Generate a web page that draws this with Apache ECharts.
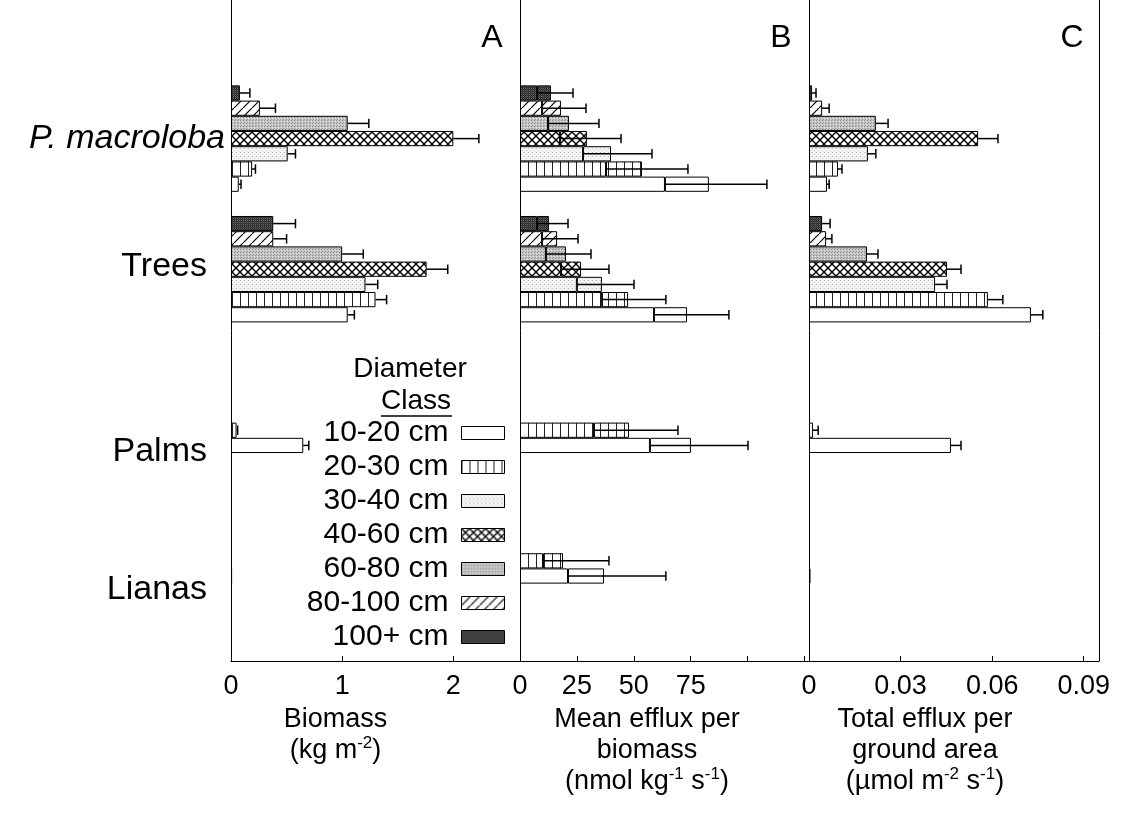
<!DOCTYPE html>
<html>
<head>
<meta charset="utf-8">
<script src="https://cdn.jsdelivr.net/npm/echarts@6/dist/echarts.min.js"></script>
<style>
  html, body { margin: 0; padding: 0; background: #fff; }
  #chart { width: 1125px; height: 829px; }
</style>
</head>
<body>
<div id="chart"></div>
<script>
// Plant groups (rows) and stem diameter classes (columns, 10-20 cm first)
const groups = ['P. macroloba', 'Trees', 'Palms', 'Lianas'];
const classes = ['10-20 cm', '20-30 cm', '30-40 cm', '40-60 cm', '60-80 cm', '80-100 cm', '100+ cm'];

// A: biomass (kg m-2) and its standard error
const biomass = [
  [0.07, 0.19, 0.51, 2.00, 1.05, 0.26, 0.08],
  [1.05, 1.30, 1.21, 1.76, 1.00, 0.38, 0.38],
  [0.65, 0.05, null, null, null, null, null],
  [0.01, null, null, null, null, null, null]
];
const biomassSE = [
  [0.02, 0.03, 0.07, 0.23, 0.19, 0.14, 0.09],
  [0.06, 0.10, 0.11, 0.19, 0.19, 0.12, 0.20],
  [0.05, 0.01, null, null, null, null, null],
  [null, null, null, null, null, null, null]
];

// B: mean efflux per biomass (nmol kg-1 s-1) with SE, and the biomass-weighted value
const effluxMean = [
  [63.7, 37.8, 27.7, 17.6, 12.3, 9.7, 7.5],
  [58.9, 36.0, 25.0, 18.0, 11.4, 9.7, 7.5],
  [57.1, 32.5, null, null, null, null, null],
  [21.1, 10.1, null, null, null, null, null]
];
const effluxSE = [
  [44.8, 36.0, 30.3, 26.8, 22.4, 19.3, 15.8],
  [32.9, 28.1, 25.1, 21.1, 19.8, 15.8, 13.6],
  [43.1, 36.9, null, null, null, null, null],
  [43.0, 29.0, null, null, null, null, null]
];
const effluxWeighted = [
  [83.0, 53.6, 40.0, 29.4, 21.5, 18.0, 13.6],
  [73.4, 47.5, 36.0, 26.8, 20.2, 16.3, 12.7],
  [75.1, 47.9, null, null, null, null, null],
  [36.9, 18.9, null, null, null, null, null]
];

// C: total efflux per ground area (umol m-2 s-1) with SE
const totalEfflux = [
  [0.0059, 0.0095, 0.0193, 0.0554, 0.0219, 0.0043, 0.0010],
  [0.0727, 0.0586, 0.0413, 0.0452, 0.0190, 0.0056, 0.0043],
  [0.0465, 0.0013, null, null, null, null, null],
  [0.0005, null, null, null, null, null, null]
];
const totalEffluxSE = [
  [0.0007, 0.0013, 0.0026, 0.0065, 0.0040, 0.0023, 0.0013],
  [0.0039, 0.0049, 0.0039, 0.0046, 0.0036, 0.0019, 0.0026],
  [0.0033, 0.0017, null, null, null, null, null],
  [null, null, null, null, null, null, null]
];

// Axis tick labels shown on each panel
const biomassTicks = [0, 1, 2];
const effluxTicks = [0, 25, 50, 75];
const totalTicks = [0, 0.03, 0.06, 0.09];

const FONT = '"Liberation Sans", Arial, sans-serif';
const GAP = 0.185;                       // category gap around each group of 7 bars
const yCategories = [' ', ...groups, '  '];  // blank ends give the outer margins

// ---------- fill patterns for the diameter classes ----------
function tile(w, h, draw) {
  const c = document.createElement('canvas');
  c.width = w; c.height = h;
  const ctx = c.getContext('2d');
  draw(ctx, w, h);
  return { image: c, repeat: 'repeat' };
}
function dots(bg, pts) {
  return (ctx, w, h) => {
    ctx.fillStyle = bg; ctx.fillRect(0, 0, w, h);
    pts.forEach(p => { ctx.fillStyle = p[2]; ctx.fillRect(p[0], p[1], 1, 1); });
  };
}
const fills = [
  '#ffffff',
  tile(8, 8, (ctx) => { ctx.fillStyle = '#fff'; ctx.fillRect(0, 0, 8, 8); ctx.fillStyle = '#222'; ctx.fillRect(0, 0, 1, 8); }),
  tile(4, 4, dots('#f4f4f4', [[0, 0, '#b8b8b8'], [2, 2, '#d0d0d0'], [3, 0, '#e0e0e0']])),
  tile(8, 8, (ctx) => {
    ctx.fillStyle = '#fff'; ctx.fillRect(0, 0, 8, 8);
    ctx.strokeStyle = '#000'; ctx.lineWidth = 1.4;
    ctx.beginPath();
    ctx.moveTo(-1, -1); ctx.lineTo(9, 9);
    ctx.moveTo(-1, 9); ctx.lineTo(9, -1);
    ctx.stroke();
  }),
  tile(3, 3, dots('#c4c4c4', [[0, 0, '#8a8a8a'], [2, 1, '#e6e6e6'], [1, 2, '#9c9c9c']])),
  tile(9, 9, (ctx) => {
    ctx.fillStyle = '#fff'; ctx.fillRect(0, 0, 9, 9);
    ctx.strokeStyle = '#000'; ctx.lineWidth = 1.2;
    ctx.beginPath();
    ctx.moveTo(-1, 10); ctx.lineTo(10, -1);
    ctx.moveTo(-2, 1); ctx.lineTo(1, -2);
    ctx.moveTo(8, 11); ctx.lineTo(11, 8);
    ctx.stroke();
  }),
  tile(2, 2, dots('#2a2a2a', [[1, 0, '#6a6a6a'], [0, 1, '#444']]))
];

// ---------- series builders ----------
function column(values, c) {
  return yCategories.map(name => {
    const g = groups.indexOf(name);
    if (g < 0 || values[g][c] == null) return '-';
    return values[g][c];
  });
}
function bar(name, data, idx, c, stack) {
  return {
    type: 'bar', name, data, stack,
    xAxisIndex: idx, yAxisIndex: idx,
    barGap: '0%', barCategoryGap: (GAP * 100) + '%',
    itemStyle: { color: fills[c], borderColor: '#000', borderWidth: 1 },
    emphasis: { disabled: true }, silent: true, animation: false
  };
}
function renderError(params, api) {
  const cat = api.value(2);
  const a = api.coord([api.value(0), cat]);
  const b = api.coord([api.value(1), cat]);
  const band = api.size([0, 1])[1];
  const span = band * (1 - GAP);
  const h = span / 7;
  const y = a[1] - span / 2 + (api.value(3) + 0.5) * h;
  const cap = h * 0.62;
  const st = { stroke: '#000', lineWidth: 1.5 };
  return {
    type: 'group',
    children: [
      { type: 'line', shape: { x1: a[0], y1: y, x2: b[0], y2: y }, style: st },
      { type: 'line', shape: { x1: b[0], y1: y - cap / 2, x2: b[0], y2: y + cap / 2 }, style: st }
    ]
  };
}
function errors(idx, base, se) {
  const data = [];
  groups.forEach((g, gi) => classes.forEach((cl, c) => {
    if (base[gi][c] == null || se[gi][c] == null) return;
    data.push([base[gi][c], base[gi][c] + se[gi][c], g, 6 - c]);
  }));
  return {
    type: 'custom', name: 'SE' + idx, xAxisIndex: idx, yAxisIndex: idx,
    dimensions: ['lo', 'hi', 'group', 'slot'],
    encode: { x: [0, 1], y: 2 }, data, renderItem: renderError,
    z: 5, silent: true, animation: false
  };
}

const series = [];
for (let c = 6; c >= 0; c--) series.push(bar(classes[c], column(biomass, c), 0, c));
for (let c = 6; c >= 0; c--) {
  const rest = effluxWeighted.map((row, g) => row.map((v, k) =>
    v == null || effluxMean[g][k] == null ? null : +(v - effluxMean[g][k]).toFixed(2)));
  series.push(bar(classes[c], column(effluxMean, c), 1, c, 'b' + c));
  series.push(bar(classes[c], column(rest, c), 1, c, 'b' + c));
}
for (let c = 6; c >= 0; c--) series.push(bar(classes[c], column(totalEfflux, c), 2, c));
series.push(errors(0, biomass, biomassSE));
series.push(errors(1, effluxMean, effluxSE));
series.push(errors(2, totalEfflux, totalEffluxSE));

// ---------- axes ----------
const panels = [
  { left: 231, width: 289, max: 2.6, interval: 1, ticks: biomassTicks, fmt: v => String(v), shift: 80,
    name: '{t|Biomass}\n{t|(kg m}{s|-2}{t|)}' },
  { left: 520, width: 289, max: 127, interval: 25, ticks: effluxTicks, fmt: v => String(v), shift: 35,
    name: '{t|Mean efflux per}\n{t|biomass}\n{t|(nmol kg}{s|-1}{t| s}{s|-1}{t|)}' },
  { left: 809, width: 290, max: 0.095, interval: 0.03, ticks: totalTicks, fmt: v => v === 0 ? '0' : v.toFixed(2), shift: 58,
    name: '{t|Total efflux per}\n{t|ground area}\n{t|(\u00b5mol m}{s|-2}{t| s}{s|-1}{t|)}' }
];

const grid = [], xAxis = [], yAxis = [];
panels.forEach((p, i) => {
  grid.push({ left: p.left, width: p.width, top: 8, height: 653 });
  xAxis.push({
    gridIndex: i, type: 'value', min: 0, max: p.max, interval: p.interval,
    axisLine: { show: true, onZero: false, lineStyle: { color: '#000', width: 1 } },
    axisTick: { show: true, inside: true, length: 5, lineStyle: { color: '#000' } },
    splitLine: { show: false },
    axisLabel: {
      margin: 12, fontSize: 27, color: '#000', fontFamily: FONT,
      showMaxLabel: false,
      formatter: v => p.ticks.some(t => Math.abs(t - v) < p.interval * 1e-6) ? p.fmt(v) : ''
    },
    name: p.name, nameLocation: 'middle', nameGap: 43,
    nameTextStyle: {
      padding: [0, p.shift, 0, 0],
      rich: {
        t: { fontSize: 27, lineHeight: 31, color: '#000', fontFamily: FONT },
        s: { fontSize: 17, lineHeight: 20, verticalAlign: 'top', color: '#000', fontFamily: FONT }
      }
    }
  });
  yAxis.push({
    gridIndex: i, type: 'category', inverse: true, boundaryGap: false, data: yCategories,
    axisLine: { show: false }, axisTick: { show: false }, splitLine: { show: false },
    axisLabel: i === 0 ? {
      show: true, interval: 0, margin: 6, color: '#000', fontFamily: FONT, fontSize: 34,
      formatter: v => {
        if (v.trim() === '') return '';
        if (v === 'P. macroloba') return '{it|' + v + '}';
        if (v === 'Trees') return '{tr|' + v + '}';
        if (v === 'Palms') return '{pa|' + v + '}';
        return '{li|' + v + '}';
      },
      rich: {
        it: { fontSize: 34, fontStyle: 'italic', fontFamily: FONT, color: '#000' },
        tr: { fontSize: 34, fontFamily: FONT, color: '#000', padding: [0, 18, 6, 0] },
        pa: { fontSize: 34, fontFamily: FONT, color: '#000', padding: [104, 18, 0, 0] },
        li: { fontSize: 34, fontFamily: FONT, color: '#000', padding: [118, 18, 0, 0] }
      }
    } : { show: false }
  });
});
// panel frames running the full plot height
panels.forEach((p, i) => {
  grid.push({ left: p.left, width: p.width, top: 0, height: 661 });
  xAxis.push({ gridIndex: 3 + i, type: 'value', show: false });
  yAxis.push({
    gridIndex: 3 + i, type: 'value', position: 'left',
    axisLine: { show: true, onZero: false, lineStyle: { color: '#000', width: 1 } },
    axisTick: { show: false }, axisLabel: { show: false }, splitLine: { show: false }
  });
});
yAxis.push({
  gridIndex: 5, type: 'value', position: 'right',
  axisLine: { show: true, onZero: false, lineStyle: { color: '#000', width: 1 } },
  axisTick: { show: false }, axisLabel: { show: false }, splitLine: { show: false }
});

const chart = echarts.init(document.getElementById('chart'), null, { renderer: 'canvas' });
chart.setOption({
  backgroundColor: '#fff',
  animation: false,
  textStyle: { fontFamily: FONT },
  grid, xAxis, yAxis, series,
  legend: {
    data: classes, orient: 'vertical', align: 'right',
    right: 620, top: 416, padding: 0, itemGap: 0,
    itemWidth: 43, itemHeight: 13, icon: 'rect', selectedMode: false,
    itemStyle: { borderColor: '#000', borderWidth: 1 },
    textStyle: { fontSize: 30, lineHeight: 34, color: '#000', fontFamily: FONT, padding: [0, 8, 0, 0] }
  },
  graphic: [
    { type: 'text', x: 492, y: 38, style: { text: 'A', font: '32px ' + FONT, fill: '#000', align: 'center', verticalAlign: 'middle' } },
    { type: 'text', x: 781, y: 38, style: { text: 'B', font: '32px ' + FONT, fill: '#000', align: 'center', verticalAlign: 'middle' } },
    { type: 'text', x: 1072, y: 38, style: { text: 'C', font: '32px ' + FONT, fill: '#000', align: 'center', verticalAlign: 'middle' } },
    { type: 'text', x: 410, y: 369, style: { text: 'Diameter', font: '28px ' + FONT, fill: '#000', align: 'center', verticalAlign: 'middle' } },
    { type: 'text', x: 416, y: 401, style: { text: 'Class', font: '28px ' + FONT, fill: '#000', align: 'center', verticalAlign: 'middle' } },
    { type: 'line', shape: { x1: 381, y1: 416, x2: 452, y2: 416 }, style: { stroke: '#000', lineWidth: 1.5 } }
  ]
});
</script>
</body>
</html>
